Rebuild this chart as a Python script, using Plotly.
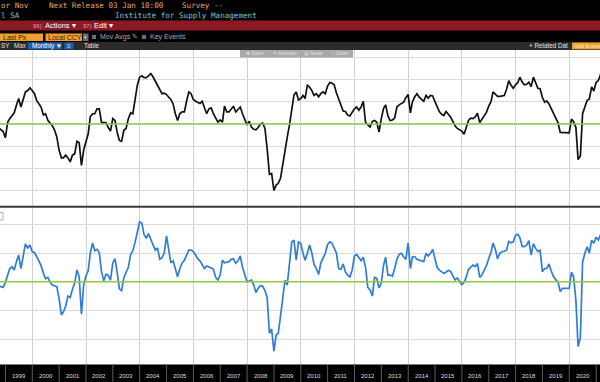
import pandas as pd
import plotly.graph_objects as go

# ---------------- data (monthly, Sep 1998 .. Mar 2021, month-end) ----------------
pmi = [
    49.2, 48.7, 48.3, 46.9,
    50.4, 51.2, 52.0, 52.5, 54.2, 55.7, 53.8, 55.7, 57.2, 57.5, 58.1, 57.5,
    56.8, 55.3, 54.6, 53.8, 52.0, 52.3, 50.8, 50.2, 49.6, 48.6, 47.1, 44.1,
    42.4, 42.4, 43.0, 42.4, 41.5, 43.0, 43.3, 46.1, 45.8, 40.7, 44.1, 46.0,
    47.8, 51.6, 52.3, 52.3, 53.4, 53.4, 50.4, 50.3, 50.3, 49.2, 48.4, 51.2,
    50.8, 48.2, 46.3, 46.1, 48.6, 49.0, 51.2, 52.5, 52.3, 55.5, 58.7, 60.5,
    60.8, 60.4, 60.4, 60.8, 61.3, 60.6, 59.6, 58.8, 57.6, 56.8, 56.9, 56.6,
    56.0, 55.5, 54.5, 52.3, 50.8, 52.3, 52.7, 52.7, 55.1, 57.2, 56.8, 55.5,
    55.1, 54.9, 54.6, 55.1, 53.8, 52.3, 53.4, 53.6, 52.3, 51.4, 50.4, 50.9,
    50.4, 54.0, 52.7, 52.7, 53.4, 54.0, 52.7, 53.4, 53.8, 52.3, 51.2, 49.8,
    50.6, 49.3, 48.8, 48.7, 49.2, 50.0, 50.2, 49.0, 44.5, 38.7, 38.9, 35.1,
    36.3, 36.7, 37.8, 41.2, 44.5, 47.0, 49.8, 53.5, 56.5, 57.2, 55.4, 55.7,
    56.4, 55.7, 58.7, 58.3, 57.5, 56.4, 56.8, 56.1, 56.8, 57.2, 56.8, 58.5,
    59.3, 59.2, 58.8, 57.0, 55.7, 54.2, 52.9, 52.8, 52.0, 51.8, 52.5, 53.4,
    53.8, 53.1, 53.8, 55.1, 50.3, 49.7, 49.3, 50.6, 50.8, 50.4, 48.2, 51.2,
    53.5, 54.3, 51.8, 50.8, 50.9, 51.3, 53.8, 54.3, 54.7, 54.9, 55.9, 56.6,
    52.5, 55.0, 56.1, 56.8, 56.0, 55.6, 55.1, 56.4, 55.8, 56.4, 56.3, 55.0,
    53.6, 52.8, 52.2, 51.9, 52.8, 52.3, 51.6, 50.6, 49.6, 49.0, 48.7, 48.4,
    47.7, 49.3, 50.8, 51.3, 51.2, 51.6, 52.4, 50.3, 51.0, 51.7, 52.6, 54.0,
    55.0, 57.2, 56.6, 56.2, 56.2, 56.3, 56.4, 57.8, 59.7, 58.7, 58.0, 58.8,
    59.3, 60.5, 59.4, 58.8, 58.9, 59.4, 58.4, 60.5, 59.3, 58.0, 57.9, 56.0,
    54.9, 55.2, 54.5, 53.4, 52.6, 51.4, 50.3, 48.1, 48.1, 48.1, 48.0, 48.0,
    51.1, 50.5, 49.2, 42.0, 42.8, 52.3, 53.8, 55.3, 55.6, 58.3, 57.4, 59.3,
    59.8, 61.0, 63.5,
]

new_orders = [
    48.5, 48.3, 48.0, 49.7,
    52.0, 54.5, 55.2, 54.1, 57.0, 59.3, 54.6, 58.7, 63.2, 61.8, 62.8, 60.5,
    60.1, 58.8, 57.3, 55.6, 53.0, 51.0, 51.5, 49.8, 48.8, 48.5, 48.3, 44.0,
    38.4, 39.5, 41.5, 45.0, 44.5, 47.3, 49.5, 54.1, 51.7, 38.7, 48.8, 52.0,
    53.8, 59.9, 63.5, 60.8, 61.3, 60.2, 53.5, 50.3, 52.6, 52.2, 50.5, 56.5,
    58.0, 53.5, 47.5, 46.9, 51.5, 53.2, 55.0, 59.5, 60.8, 63.8, 67.5, 70.9,
    70.4, 66.5, 65.1, 66.8, 64.8, 62.6, 61.0, 61.8, 57.8, 58.4, 60.0, 66.0,
    60.5, 56.6, 57.3, 54.0, 51.7, 54.5, 56.5, 57.5, 59.5, 61.0, 61.0, 60.5,
    59.3, 58.0, 57.3, 55.8, 54.6, 55.5, 55.2, 54.8, 54.3, 51.5, 50.6, 52.3,
    57.5, 56.6, 56.8, 57.0, 57.8, 58.0, 56.4, 57.3, 59.0, 55.0, 52.5, 50.0,
    50.2, 50.6, 49.0, 46.2, 47.7, 48.6, 48.4, 46.9, 44.5, 32.0, 33.5, 25.8,
    31.4, 32.0, 38.0, 45.0, 50.6, 48.8, 56.4, 63.9, 64.5, 57.5, 63.9, 63.4,
    59.9, 57.5, 59.9, 62.8, 60.0, 56.0, 54.6, 52.5, 56.5, 58.5, 59.9, 63.0,
    63.9, 63.5, 62.0, 60.0, 54.6, 54.3, 56.2, 53.4, 52.3, 51.7, 54.0, 59.0,
    59.5, 58.5, 57.3, 58.5, 55.0, 48.0, 47.1, 45.0, 51.5, 51.2, 47.8, 49.5,
    55.8, 58.5, 52.3, 52.3, 51.9, 54.5, 57.8, 59.5, 59.9, 58.7, 57.8, 63.5,
    54.6, 58.7, 58.7, 57.8, 57.5, 57.3, 57.0, 59.8, 59.0, 59.9, 61.3, 58.0,
    55.0, 54.0, 53.5, 52.9, 53.3, 54.0, 53.6, 52.2, 50.6, 51.3, 50.0, 49.0,
    49.8, 51.6, 54.3, 55.2, 55.8, 55.3, 56.3, 51.5, 52.3, 54.0, 55.6, 58.0,
    60.3, 63.5, 61.3, 58.0, 59.9, 60.5, 60.6, 61.0, 64.0, 63.6, 63.9, 66.2,
    66.5, 65.4, 62.3, 62.2, 62.7, 64.3, 59.3, 63.3, 61.6, 60.5, 61.0, 53.5,
    54.6, 54.6, 56.2, 53.8, 51.8, 50.7, 50.0, 46.6, 47.7, 47.7, 47.7, 47.7,
    53.3, 51.7, 43.6, 27.4, 30.5, 56.8, 59.9, 62.2, 60.0, 64.5, 63.4, 65.5,
    64.5, 66.3, 67.5,
]

year_labels = [str(y) for y in range(1999, 2021)]
threshold = 50

dates = (pd.date_range("1998-09-01", periods=len(pmi), freq="MS")
         + pd.offsets.MonthEnd(0)).strftime("%Y-%m-%d").tolist()

# ---------------- geometry helpers ----------------
W, H = 600, 382
def px(x):
    return x / W
def py(y):
    return 1 - y / H

shapes = []
annotations = []

def rect(x0, y0, x1, y1, color, line_color=None, lw=0):
    shapes.append(dict(type="rect", xref="paper", yref="paper",
                       x0=px(x0), x1=px(x1), y0=py(y1), y1=py(y0),
                       fillcolor=color,
                       line=dict(width=lw, color=line_color or color),
                       layer="above"))

def text(x, y, s, size, color, family="Liberation Sans", anchor="left"):
    annotations.append(dict(xref="paper", yref="paper", x=px(x), y=py(y),
                            text=s, showarrow=False, xanchor=anchor,
                            yanchor="middle", borderpad=0,
                            font=dict(size=size, color=color, family=family)))

# ---------------- figure ----------------
fig = go.Figure()
fig.add_trace(go.Scatter(x=dates, y=pmi, mode="lines", xaxis="x", yaxis="y",
                         line=dict(color="#111111", width=1.7), hoverinfo="skip"))
fig.add_trace(go.Scatter(x=dates, y=new_orders, mode="lines", xaxis="x2", yaxis="y2",
                         line=dict(color="#2f7dd6", width=1.7), hoverinfo="skip"))

# 50 lines
for yref in ("y", "y2"):
    shapes.append(dict(type="line", xref="paper", yref=yref, x0=0, x1=1,
                       y0=threshold, y1=threshold,
                       line=dict(color="#93c83e", width=1.6), layer="above"))

# ---------------- header ----------------
rect(0, 0, 600, 50, "#000000")
rect(0, 20.5, 600, 30.5, "#8b1a24")
rect(0, 42, 600, 50, "#2b2b2b")

mono = "DejaVu Sans Mono"
orange_txt = "#eaa55c"
teal_txt = "#7cc3cc"
text(0, 6, "or Nov", 7.6, orange_txt, mono)
text(48, 6, "Next Release 03 Jan 10:00", 7.6, orange_txt, mono)
text(181, 6, "Survey --", 7.6, orange_txt, mono)
text(0, 15.5, "l SA", 7.6, teal_txt, mono)
text(114, 15.5, "Institute for Supply Management", 7.6, teal_txt, mono)

text(31.5, 25.7, "96)", 6, "#e8a0a0")
text(44, 25.7, "Actions \u25be", 7.5, "#ffffff")
text(81.5, 25.7, "97)", 6, "#e8a0a0")
text(93, 25.7, "Edit \u25be", 7.5, "#ffffff")

rect(0, 33.5, 43, 41, "#f0a02e")
text(2, 37.3, "Last Px", 7, "#3a2200")
rect(45.5, 33.5, 82, 41, "#f0a02e")
text(47, 37.3, "Local CCY", 7, "#3a2200")
rect(83, 33.5, 88.5, 41, "#6a6a6a")
text(85.7, 37.3, "\u25be", 5, "#dddddd", anchor="center")
rect(92, 35, 96, 39, "#6e6e6e")
text(99, 37.3, "Mov Avgs \u270e", 7, "#a8a8a8")
rect(142, 35, 146, 39, "#6e6e6e")
text(148.5, 37.3, "Key Events", 7, "#a8a8a8")

text(0, 46, "SY", 6.3, "#e0e0e0")
text(13, 46, "Max", 6.3, "#e0e0e0")
rect(28, 42.5, 62, 49.3, "#1f5fb0")
text(31, 46, "Monthly \u25bc", 6.3, "#ffffff")
rect(64.5, 42.5, 73.5, 49.3, "#1f5fb0")
text(69, 46, "\u2261", 6, "#cfe0ff", anchor="center")
text(83, 46, "Table", 6.3, "#e0e0e0")
text(528, 46, "+ Related Dat", 6.3, "#e6e6e6")
rect(572, 42.5, 600, 49.3, "#f0a02e")
text(573, 46, "Add Event", 5.6, "#fff0c0")

# chart toolbar overlay
rect(240, 50, 353, 57.5, "#a9a9a9")
text(245, 53.8, "\u271a Zoom", 4.8, "#e2e2e2")
text(272, 53.8, "\u270e Annotate", 4.8, "#e2e2e2")
text(303, 53.8, "\u25a4 News", 4.8, "#e2e2e2")
text(331, 53.8, "\u2315 Zoom", 4.8, "#e2e2e2")

# panel separator
rect(0, 205.8, 600, 207.8, "#3a3a3a")
# small legend box at left edge of lower panel
rect(-2, 212.5, 3, 220, "#ffffff", "#9a9a9a", 0.8)

# ---------------- bottom time band ----------------
rect(0, 364.5, 600, 382, "#000000")
for yr in range(1999, 2022):
    shapes.append(dict(type="line", xref="x2", yref="paper",
                       x0=f"{yr}-01-01", x1=f"{yr}-01-01",
                       y0=0, y1=py(364.5),
                       line=dict(color="#5c5c5c", width=1), layer="above"))
for lab in year_labels:
    annotations.append(dict(xref="x2", yref="paper", x=f"{lab}-07-02", y=py(375.7),
                            text=lab, showarrow=False, xanchor="center",
                            yanchor="middle",
                            font=dict(size=6, color="#dcdcdc",
                                      family="Liberation Sans")))

axis_common = dict(type="date", range=["1998-10-19", "2021-02-22"],
                   showticklabels=False, showgrid=True, gridcolor="#d2d2d2",
                   gridwidth=1, dtick="M24", tick0="2000-01-01", ticks="",
                   zeroline=False, showline=False)

fig.update_layout(
    width=W, height=H,
    margin=dict(l=0, r=0, t=0, b=0),
    paper_bgcolor="white", plot_bgcolor="white",
    showlegend=False,
    xaxis=dict(domain=[0, 1], anchor="y", **axis_common),
    xaxis2=dict(domain=[0, 1], anchor="y2", matches="x", **axis_common),
    yaxis=dict(domain=[py(206), py(50)], range=[31.6, 66.6], dtick=5, tick0=0,
               showticklabels=False, showgrid=True, gridcolor="#dadada",
               zeroline=False, showline=False, ticks=""),
    yaxis2=dict(domain=[py(364), py(208)], range=[21.3, 75.7], dtick=10, tick0=0,
                showticklabels=False, showgrid=True, gridcolor="#dadada",
                zeroline=False, showline=False, ticks=""),
    shapes=shapes,
    annotations=annotations,
)

fig.write_html("out.html", config={"displayModeBar": False},
               post_script="document.body.style.margin='0';"
                           "document.body.style.padding='0';"
                           "document.documentElement.style.overflow='hidden';")
